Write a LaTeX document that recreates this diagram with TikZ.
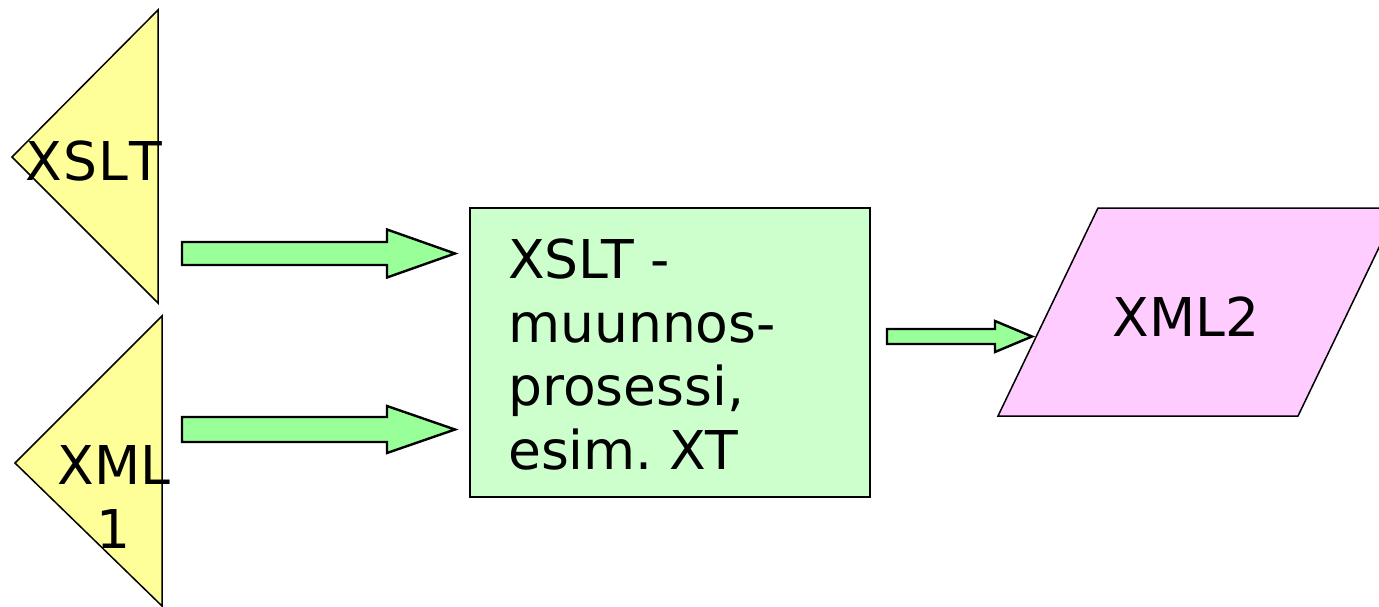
\documentclass[tikz,border=0pt]{standalone}
\usepackage{fontspec}
\setmainfont{DejaVu Sans}
\frenchspacing
\tikzset{
  outline/.style={draw=black, line width=1.5pt, line join=miter},
  srcshape/.style={outline, fill=srcyellow},
  procbox/.style={outline, fill=procgreen},
  outshape/.style={outline, fill=outpink},
  blockarrow/.style={draw=black, line width=2.4pt, fill=arrowgreen, line join=miter},
  bigtext/.style={font=\fontsize{53.5}{63.5}\selectfont, inner sep=0pt, text=black},
}
\definecolor{srcyellow}{HTML}{FFFF99}
\definecolor{procgreen}{HTML}{CCFFCC}
\definecolor{outpink}{HTML}{FFCCFF}
\definecolor{arrowgreen}{HTML}{99FF99}
% block arrow: tail x, tip x, centre y, shaft half-width, head half-width, head start x
\newcommand\fatarrow[6]{%
  \draw[blockarrow] (#1,#3-#4) -- (#6,#3-#4) -- (#6,#3-#5) -- (#2,#3)
    -- (#6,#3+#5) -- (#6,#3+#4) -- (#1,#3+#4) -- cycle;}
\begin{document}
\begin{tikzpicture}[x=1pt,y=-1pt]
  \useasboundingbox (0,0) rectangle (1379,607);
  \clip (0,0) rectangle (1379,607);

  % inputs: stylesheet and source document
  \coordinate (xsltApex) at (12,157);
  \coordinate (xsltTop) at (158,10);
  \coordinate (xsltBot) at (158,303);
  \draw[srcshape] (xsltApex) -- (xsltTop) -- (xsltBot) -- cycle;
  \node[bigtext, anchor=base] (xslt) at (94,181) {X\kern1ptS\kern1ptL\kern1ptT};

  \coordinate (xmlApex) at (15,463);
  \coordinate (xmlTop) at (162,316);
  \coordinate (xmlBot) at (162,606);
  \draw[srcshape] (xmlApex) -- (xmlTop) -- (xmlBot) -- cycle;
  \node[bigtext, align=center, anchor=base] (xmlone) at (114,548) {XML\\1};

  % transformation process
  \draw[procbox] (470,208) rectangle (870,497);
  \node[bigtext, align=left, anchor=base west] (proc) at (508,469)
    {XSLT -\\muunnos-\\prosessi,\\esim. XT};

  % result document
  \draw[outshape] (998,416) -- (1298,416) -- (1398,208) -- (1098,208) -- cycle;
  \node[bigtext, anchor=base] (xmltwo) at (1186,336) {XML2};

  % flow arrows
  \fatarrow{182}{455}{253.5}{11.5}{24}{387}
  \fatarrow{182}{455}{429.5}{12.5}{23.5}{387}
  \fatarrow{887}{1032}{336.5}{7.5}{15.5}{995}
\end{tikzpicture}
\end{document}
